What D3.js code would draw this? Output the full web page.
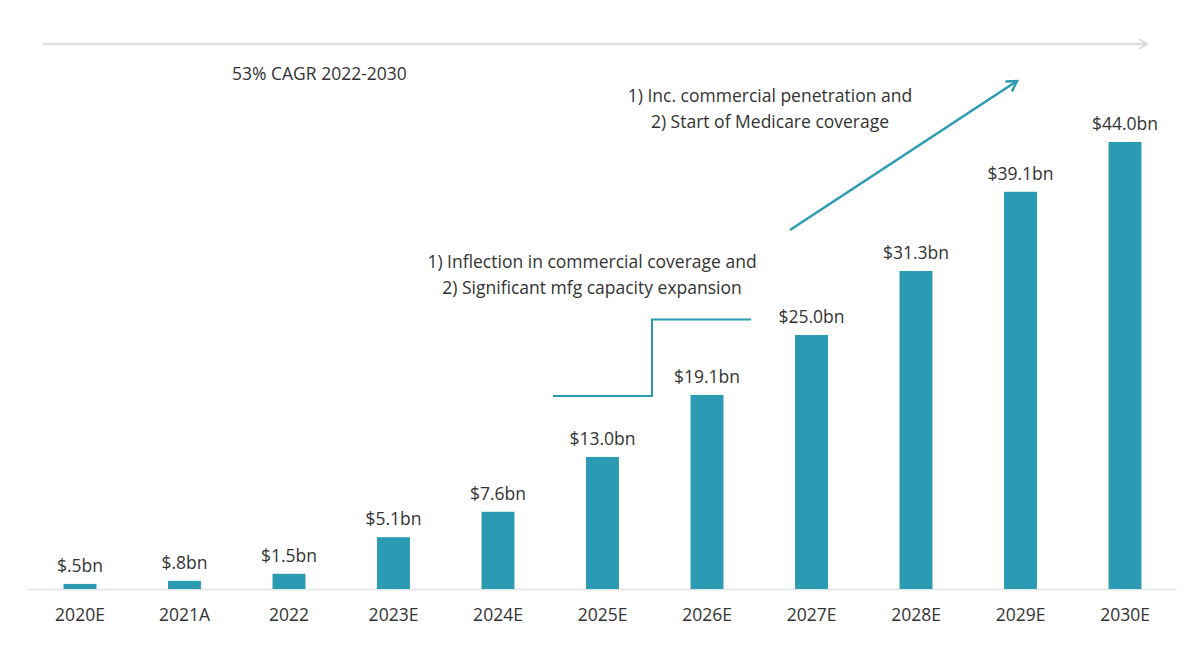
<!DOCTYPE html>
<html><head><meta charset="utf-8">
<script src="https://cdn.jsdelivr.net/npm/d3@7"></script>
<style>body{margin:0;background:#fff}svg{display:block}text{font-family:"Open Sans",sans-serif;fill:#333}</style>
</head><body><svg id="c" width="1204" height="671"></svg>
<script>
const categories = ["2020E","2021A","2022","2023E","2024E","2025E","2026E","2027E","2028E","2029E","2030E"];
const values = [0.5,0.8,1.5,5.1,7.6,13.0,19.1,25.0,31.3,39.1,44.0];
const valueLabels = ["$.5bn","$.8bn","$1.5bn","$5.1bn","$7.6bn","$13.0bn","$19.1bn","$25.0bn","$31.3bn","$39.1bn","$44.0bn"];
const cagrLabel = "53% CAGR 2022-2030";
const note1 = ["1) Inc. commercial penetration and","2) Start of Medicare coverage"];
const note2 = ["1) Inflection in commercial coverage and","2) Significant mfg capacity expansion"];

const FONT = "'Open Sans',sans-serif";
const FS = 17.5;
const svg = d3.select("#c");
const teal = "#2a9bb3";
const x = d3.scaleBand().domain(categories).range([28,1177]).paddingInner(0.685).paddingOuter(0.34);
const y = d3.scaleLinear().domain([0,44]).range([589,142]);

svg.append("defs").html(`
<marker id="ga" viewBox="0 0 12 12" refX="10" refY="6" markerWidth="12" markerHeight="12" markerUnits="userSpaceOnUse" orient="auto"><path d="M2,1 L10,6 L2,11" fill="none" stroke="#ddd" stroke-width="2"/></marker>
<marker id="ta" viewBox="0 0 14 14" refX="12" refY="7" markerWidth="14" markerHeight="14" markerUnits="userSpaceOnUse" orient="auto"><path d="M2,1 L12,7 L2,13" fill="none" stroke="${teal}" stroke-width="2.5"/></marker>`);

svg.append("line").attr("x1",43).attr("x2",1147).attr("y1",44).attr("y2",44)
  .attr("stroke","#ddd").attr("stroke-width",2.5).attr("marker-end","url(#ga)");
svg.append("text").attr("x",232).attr("y",80).attr("font-size",FS).text(cagrLabel);

svg.append("line").attr("x1",28).attr("x2",1177).attr("y1",589.5).attr("y2",589.5).attr("stroke","#e3e3e3").attr("stroke-width",1.5);

svg.selectAll("rect.bar").data(values).join("rect").attr("class","bar")
  .attr("x",(d,i)=>x(categories[i])).attr("width",x.bandwidth())
  .attr("y",d=>y(d)).attr("height",d=>y(0)-y(d)).attr("fill",teal);

svg.selectAll("text.val").data(values).join("text").attr("class","val")
  .attr("x",(d,i)=>x(categories[i])+x.bandwidth()/2).attr("y",d=>y(d)-12)
  .attr("text-anchor","middle").attr("font-size",FS).text((d,i)=>valueLabels[i]);

const ax = svg.append("g").attr("transform","translate(0,589)")
  .call(d3.axisBottom(x).tickSize(0).tickPadding(20));
ax.select(".domain").remove();
ax.selectAll("text").attr("font-size",FS).style("font-family",FONT).attr("fill","#333");

svg.append("text").attr("x",770).attr("y",102).attr("text-anchor","middle").attr("font-size",FS)
  .selectAll("tspan").data(note1).join("tspan").attr("x",770).attr("dy",(d,i)=>i?26:0).text(d=>d);
svg.append("line").attr("x1",790).attr("y1",230).attr("x2",1017).attr("y2",81)
  .attr("stroke",teal).attr("stroke-width",2.5).attr("marker-end","url(#ta)");

svg.append("text").attr("x",592).attr("y",268).attr("text-anchor","middle").attr("font-size",FS)
  .selectAll("tspan").data(note2).join("tspan").attr("x",592).attr("dy",(d,i)=>i?26:0).text(d=>d);
svg.append("path").attr("d","M553,396 H652 V319.5 H751").attr("fill","none").attr("stroke",teal).attr("stroke-width",2);
</script></body></html>
